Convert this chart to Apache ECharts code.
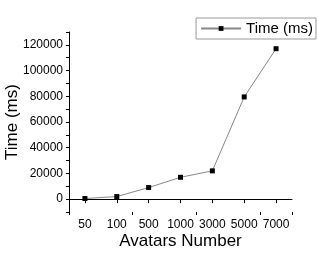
<!DOCTYPE html>
<html><head><meta charset="utf-8">
<script src="https://cdn.jsdelivr.net/npm/echarts@6/dist/echarts.min.js"></script>
<style>html,body{margin:0;padding:0;background:#fff}#c{width:318px;height:254px}</style>
</head><body><div id="c"></div>
<script>
var categories = ['50','100','500','1000','3000','5000','7000'];
var timeMs = [500, 2000, 9000, 17000, 22000, 79500, 117000];
var seriesName = 'Time (ms)';
var font = '"Liberation Sans", Arial, sans-serif';
var chart = echarts.init(document.getElementById('c'));
chart.setOption({
  animation: false,
  backgroundColor: '#fff',
  grid: {left: 69, right: 26, top: 32, bottom: 42, containLabel: false, outerBoundsMode: 'none'},
  legend: {
    right: 2, top: 18, orient: 'horizontal',
    itemWidth: 40, itemHeight: 6, itemGap: 4,
    padding: [3, 3, 3, 4],
    borderColor: '#999', borderWidth: 1,
    textStyle: {fontFamily: font, fontSize: 15, color: '#000'},
    data: [seriesName]
  },
  xAxis: [{
    type: 'category', data: categories, boundaryGap: true,
    name: 'Avatars Number', nameLocation: 'middle', nameGap: 21, nameMoveOverlap: false,
    nameTextStyle: {fontFamily: font, fontSize: 17, color: '#000'},
    axisLine: {lineStyle: {color: '#000', width: 1}},
    axisTick: {show: true, alignWithLabel: true, inside: false, length: 4, lineStyle: {color: '#000'}},
    axisLabel: {fontFamily: font, fontSize: 12, color: '#000', margin: 7, interval: 0},
    splitLine: {show: false}
  }, {
    type: 'category', data: categories, boundaryGap: true, position: 'bottom',
    axisLine: {show: false},
    axisTick: {show: true, alignWithLabel: false, length: 3, lineStyle: {color: '#000'}},
    axisLabel: {show: false},
    splitLine: {show: false}
  }],
  yAxis: {
    type: 'value', min: -10000, max: 130000, interval: 10000,
    name: 'Time (ms)', nameLocation: 'middle', nameGap: 48, nameMoveOverlap: false,
    nameTextStyle: {fontFamily: font, fontSize: 17, color: '#000'},
    axisLine: {show: true, lineStyle: {color: '#000', width: 1}},
    axisTick: {show: true, length: 3, lineStyle: {color: '#000'}},
    axisLabel: {fontFamily: font, fontSize: 12, color: '#000', margin: 6, showMinLabel: true, showMaxLabel: true,
      formatter: function (v) { return (v % 20000 === 0 && v >= 0 && v <= 120000) ? String(v) : ''; }},
    splitLine: {show: false}
  },
  series: [{
    name: seriesName, type: 'line', data: timeMs,
    symbol: 'rect', symbolSize: 5,
    itemStyle: {color: '#000'},
    lineStyle: {color: '#888', width: 1}
  }]
});
</script></body></html>
